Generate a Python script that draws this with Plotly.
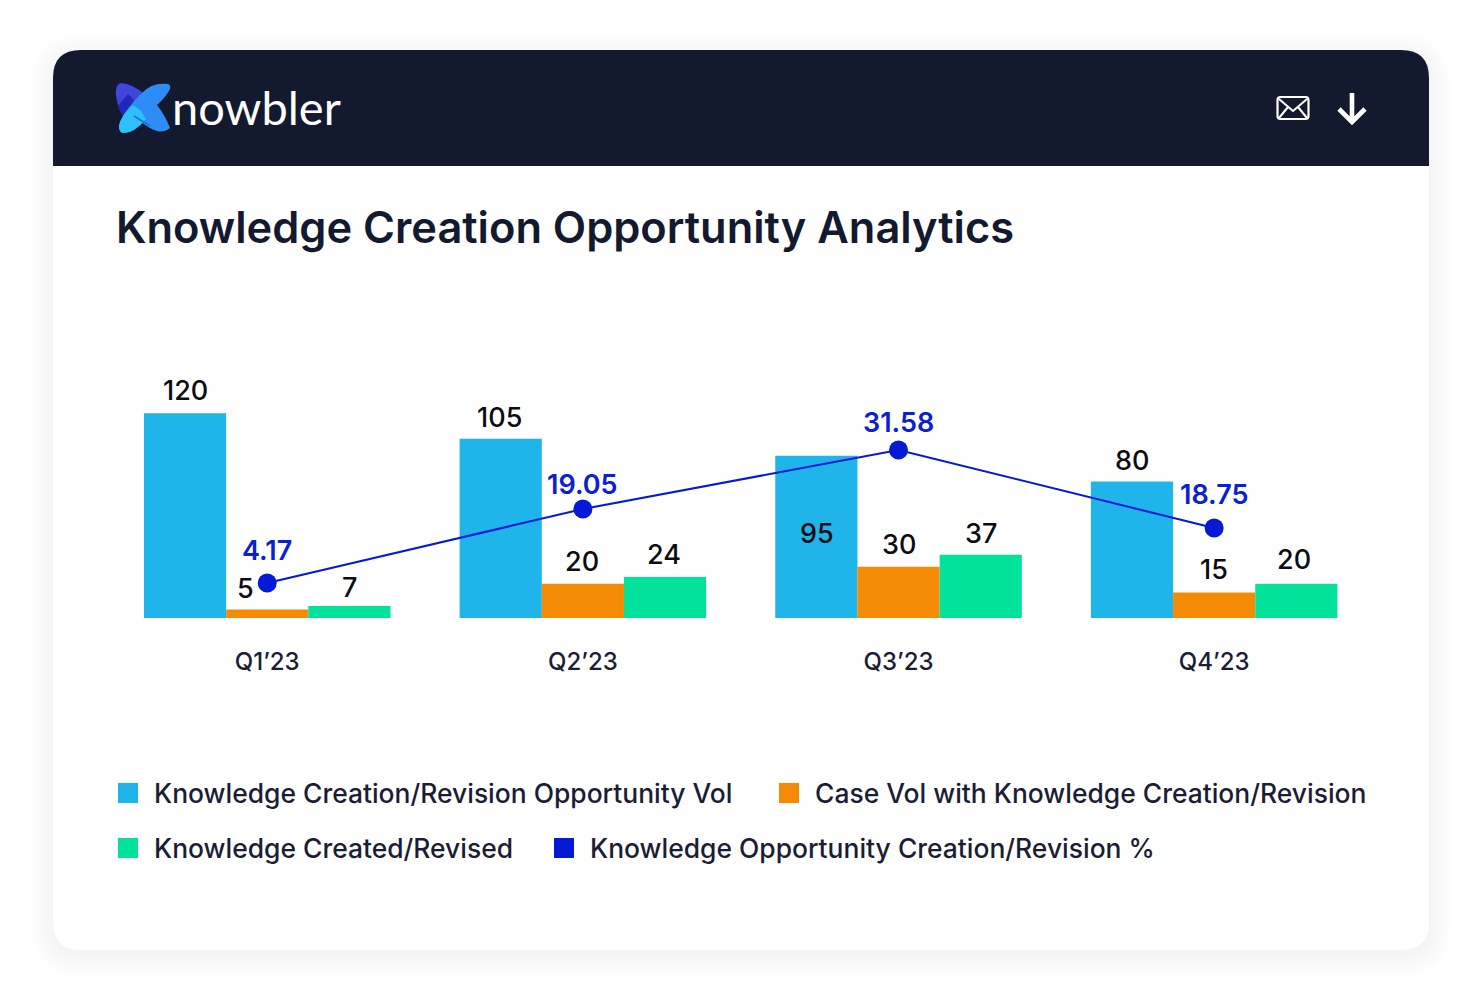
import plotly.graph_objects as go

W, H = 1480, 1000

quarters = ["Q1’23", "Q2’23", "Q3’23", "Q4’23"]
opportunity_vol = [120, 105, 95, 80]
case_vol = [5, 20, 30, 15]
created = [7, 24, 37, 20]
pct_labels = ["4.17", "19.05", "31.58", "18.75"]
pct_heights = [4.17, 19.4, 31.58, 15.5]

series_names = [
    "Knowledge Creation/Revision Opportunity Vol",
    "Case Vol with Knowledge Creation/Revision",
    "Knowledge Created/Revised",
    "Knowledge Opportunity Creation/Revision %",
]
C_BLUE, C_ORANGE, C_GREEN, C_LINE = "#1fb4ea", "#f58a05", "#03e29a", "#0519d6"
C_NAVY, C_INK = "#13192f", "#1a1d33"
FONT = "Inter"


def px(x):
    return x / W


def py(y):
    return 1 - y / H


def rr(x0, y0, x1, y1, r):
    return (f"M{x0+r},{y0} L{x1-r},{y0} Q{x1},{y0} {x1},{y0+r} L{x1},{y1-r} Q{x1},{y1} {x1-r},{y1} "
            f"L{x0+r},{y1} Q{x0},{y1} {x0},{y1-r} L{x0},{y0+r} Q{x0},{y0} {x0+r},{y0} Z")


def pth(d, fill=None, line=None, width=0, layer="below", opacity=1):
    # d holds screen-pixel coordinates; converted to paper fractions
    out = []
    for tok in d.replace(",", " ").split():
        if tok[0].isalpha():
            out.append(tok[0])
            tok = tok[1:]
            if not tok:
                continue
        out.append(tok)
    res, isx = [], True
    for tok in out:
        if tok.isalpha():
            res.append(tok)
            isx = True
        else:
            v = float(tok)
            res.append(f"{px(v):.5f}" if isx else f"{py(v):.5f}")
            isx = not isx
    return dict(type="path", xref="paper", yref="paper", path=" ".join(res), fillcolor=fill or "rgba(0,0,0,0)",
                line=dict(color=line or "rgba(0,0,0,0)", width=width), layer=layer, opacity=opacity)


fig = go.Figure()
for name, vals, col in zip(series_names[:3], [opportunity_vol, case_vol, created], [C_BLUE, C_ORANGE, C_GREEN]):
    fig.add_bar(x=quarters, y=vals, name=name, marker=dict(color=col, line_width=0))
fig.add_scatter(x=quarters, y=pct_heights, name=series_names[3], yaxis="y2", mode="lines+markers",
                line=dict(color=C_LINE, width=2), marker=dict(color=C_LINE, size=19), text=pct_labels,
                hoverinfo="text+name")

shapes = []
# soft card shadow
for i in range(10):
    g = 22 - 2.2 * i
    shapes.append(pth(rr(53 - g, 50 - g + 6, 1429 + g, 950 + g + 4, 28 + g), fill="#6a6f9a", opacity=0.007))
shapes.append(pth(rr(53, 50, 1429, 950, 28), fill="#ffffff"))
shapes.append(pth("M53,166 L53,78 Q53,50 81,50 L1401,50 Q1429,50 1429,78 L1429,166 Z", fill=C_NAVY))
# logo mark
shapes.append(pth("M121,83 Q115,84 116,96 Q118,110 127,122 L144,94 Q133,84 121,83 Z", fill="#3f46dc"))
shapes.append(pth("M118,106 Q120,113 127,122 L138,104 L128,94 Z", fill="#2326b8"))
shapes.append(pth("M168,84 Q152,82 142,93 Q128,106 120,122 Q117,131 123,133 Q131,133 137,127 L141,122 Q150,129 157,131 "
                  "Q164,133 170,128 Q165,115 157,105 Q166,97 170,89 Q171,85 168,84 Z", fill="#2e8cf5"))
shapes.append(pth("M133,105 Q124,112 120,122 Q117,131 123,133 Q135,133 146,119 L141,111 Z", fill="#2fc0fb"))
shapes.append(pth("M134,116 L150,126", line="#1f6fd8", width=1.5))
# header icons
shapes.append(pth(rr(1277.5, 97, 1308.5, 119, 3), line="#ffffff", width=2.2, layer="above"))
shapes.append(pth("M1279,99 L1293,111 L1307,99 M1279,118 L1288,107 M1307,118 L1298,107", line="#ffffff", width=2, layer="above"))
shapes.append(pth("M1352,93 L1352,121 M1339,109 L1352,122 L1365,109", line="#ffffff", width=4.6, layer="above"))
# legend swatches and text positions
legend_pos = [(118, 793, 152), (779, 793, 813), (118, 848, 152), (554, 848, 588)]
for (sx, sy, tx), col, name in zip(legend_pos, [C_BLUE, C_ORANGE, C_GREEN, C_LINE], series_names):
    shapes.append(dict(type="rect", xref="paper", yref="paper", x0=px(sx), x1=px(sx + 20), y0=py(sy - 10), y1=py(sy + 10),
                       fillcolor=col, line_width=0, layer="above"))


def note(text, x, y, size, color=C_INK, weight=500, anchor="center", family=FONT):
    return dict(text=text, x=px(x), y=py(y), xref="paper", yref="paper", showarrow=False, xanchor=anchor, yanchor="middle",
                font=dict(family=family, size=size, color=color, weight=weight))


ann = [
    note("Knowledge Creation Opportunity Analytics", 114, 227, 43.4, C_NAVY, 600, "left"),
    note("nowbler", 170, 107, 47, "#ffffff", 400, "left", "Lato"),
]
for (sx, sy, tx), name in zip(legend_pos, series_names):
    ann.append(note(name, tx, sy - 0.5, 26.45, C_INK, 500, "left"))

# data labels anchored to the bars through the axes; offsets in pixels per quarter
BAR_PX = 82
label_yshift = [[23, 21, 3, 21], [21, 22, 22, 23], [19, 23, 21, 24]]
label_xshift = [[0, -1, 0, 0], [-22, -1, 0, 0], [0, -1, 0, -2]]
label_style = dict(showarrow=False, xref="x", yref="y", yanchor="middle", font=dict(family=FONT, size=27, color="#0c0c12", weight=500))
for k, vals in enumerate([opportunity_vol, case_vol, created]):
    for j, (q, v) in enumerate(zip(quarters, vals)):
        yy = v / 2 if (k == 0 and j == 2) else v
        ann.append(dict(text=str(v), x=q, y=yy, xshift=(k - 1) * BAR_PX + label_xshift[k][j],
                        yshift=label_yshift[k][j], **label_style))
pct_yshift = [32, 25, 27, 33]
for q, h, t, ys in zip(quarters, pct_heights, pct_labels, pct_yshift):
    ann.append(dict(text=t, x=q, y=h, yshift=ys, showarrow=False, xref="x", yref="y2", yanchor="middle",
                    font=dict(family=FONT, size=27, color="#0a20d2", weight=600)))

fig.update_layout(
    width=W, height=H, margin=dict(l=0, r=0, t=0, b=0), paper_bgcolor="#ffffff", plot_bgcolor="rgba(0,0,0,0)",
    showlegend=False, barmode="group", bargap=0.219, bargroupgap=0, shapes=shapes, annotations=ann,
    xaxis=dict(domain=[px(109.4), px(1372)], range=[-0.5, 3.5], type="category", showgrid=False, zeroline=False, showline=False,
               ticks="", ticklabelstandoff=27, tickfont=dict(family=FONT, size=24, color=C_INK, weight=500)),
    yaxis=dict(domain=[py(618), py(379)], range=[0, 140], visible=False),
    yaxis2=dict(domain=[py(618), py(379)], range=[-3.05, 46.2], overlaying="y", visible=False),
)
fig.write_html("out.html", config=dict(displayModeBar=False), post_script="document.body.style.margin='0';")
